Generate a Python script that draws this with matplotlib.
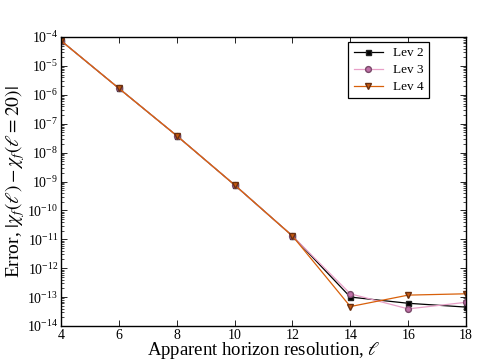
import matplotlib
matplotlib.use('Agg')
from matplotlib import pyplot as plt
from matplotlib import ticker

plt.rcParams['font.family'] = ['Liberation Serif', 'DejaVu Serif']
plt.rcParams['mathtext.fontset'] = 'stix'
plt.rcParams['xtick.direction'] = 'in'
plt.rcParams['ytick.direction'] = 'in'
plt.rcParams['xtick.top'] = True
plt.rcParams['ytick.right'] = True

ell = [4, 6, 8, 10, 12, 14, 16, 18]
lev2 = [7.5e-5, 1.68e-6, 3.85e-8, 7.6e-10, 1.3e-11, 1.0e-13, 6.1e-14, 4.5e-14]
lev3 = [7.5e-5, 1.68e-6, 3.85e-8, 7.6e-10, 1.3e-11, 1.3e-13, 3.9e-14, 6.6e-14]
lev4 = [7.5e-5, 1.68e-6, 3.85e-8, 7.6e-10, 1.3e-11, 4.7e-14, 1.17e-13, 1.3e-13]

fig = plt.figure(figsize=(4.85, 3.63), dpi=100)
ax = fig.add_axes([0.1257, 0.102, 0.8353, 0.796])

ax.plot(ell, lev2, color='black', marker='s', markersize=3.6, linewidth=0.9,
        markeredgecolor='#222222', label='Lev 2')
ax.plot(ell, lev3, color='#e8a0c8', marker='o', markersize=4.2, linewidth=0.9,
        markerfacecolor='#c070a8', markeredgecolor='#7a4a6a', label='Lev 3')
ax.plot(ell, lev4, color='#d8600a', marker='v', markersize=4.2, linewidth=0.9,
        markerfacecolor='#c85a10', markeredgecolor='#6a3010', label='Lev 4')

ax.set_yscale('log')
ax.set_xlim(4, 18)
ax.set_ylim(1e-14, 1e-4)
ax.set_xticks([4, 6, 8, 10, 12, 14, 16, 18])
ax.yaxis.set_major_locator(ticker.LogLocator(base=10, numticks=20))
ax.yaxis.set_minor_locator(ticker.LogLocator(base=10, subs=range(2, 10), numticks=20))
ax.yaxis.set_minor_formatter(ticker.NullFormatter())
ax.tick_params(labelsize=10, length=4, width=0.6, pad=2)
ax.tick_params(which='minor', length=2, width=0.5)
for s in ax.spines.values():
    s.set_linewidth(1.0)

ax.set_xlabel(r'Apparent horizon resolution, $\ell$', fontsize=13.5, labelpad=-1)
ax.set_ylabel(r'Error, $|\chi_f(\ell) - \chi_f(\ell = 20)|$', fontsize=14, labelpad=0)

leg = ax.legend(loc='upper right', bbox_to_anchor=(0.909, 0.983), borderaxespad=0,
                fontsize=9.5, fancybox=False, framealpha=1, edgecolor='black',
                handlelength=2.2, labelspacing=0.35)
leg.get_frame().set_linewidth(0.9)

plt.savefig('out.png', dpi=100)
